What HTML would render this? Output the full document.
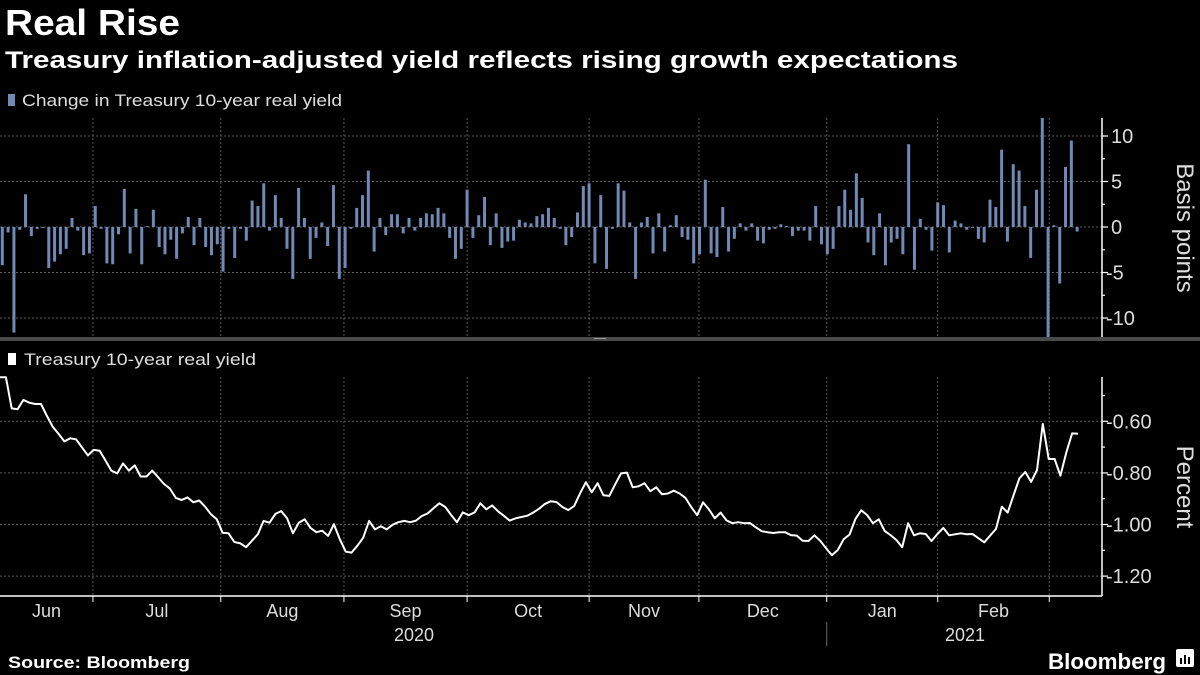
<!DOCTYPE html>
<html><head><meta charset="utf-8"><style>
html,body{margin:0;padding:0;background:#000;}
svg{display:block;font-family:"Liberation Sans",sans-serif;}
</style></head><body>
<svg id="chart" width="1200" height="675" viewBox="0 0 1200 675" xmlns="http://www.w3.org/2000/svg">
<rect x="0" y="0" width="1200" height="675" fill="#000"/>
<text x="5" y="35" fill="#fff" font-size="36" font-weight="bold" textLength="175" lengthAdjust="spacingAndGlyphs">Real Rise</text>
<text x="5" y="68" fill="#fff" font-size="24" font-weight="bold" textLength="953" lengthAdjust="spacingAndGlyphs">Treasury inflation-adjusted yield reflects rising growth expectations</text>
<rect x="8" y="94" width="7" height="12" fill="#7089b5"/>
<text x="22" y="106" fill="#ddd" font-size="17" textLength="320" lengthAdjust="spacingAndGlyphs">Change in Treasury 10-year real yield</text>
<rect x="8" y="353" width="8" height="12" fill="#fff"/>
<text x="24" y="365" fill="#ddd" font-size="17" textLength="232" lengthAdjust="spacingAndGlyphs">Treasury 10-year real yield</text>
<rect x="0" y="337" width="1200" height="4" fill="#4a4a4a"/>
<rect x="594" y="338" width="12" height="1" fill="#999"/>
<g id="grid"></g>
<g id="bars"></g>
<g id="line"></g>
<g id="axes"></g>
<text x="8" y="668" fill="#fff" font-size="17" font-weight="bold" textLength="182" lengthAdjust="spacingAndGlyphs">Source: Bloomberg</text>
<text x="1048" y="669" fill="#fff" font-size="22" font-weight="bold" textLength="118" lengthAdjust="spacingAndGlyphs">Bloomberg</text>
<rect x="1176" y="649" width="18" height="18" rx="2" fill="#fff"/>
<rect x="1180" y="658" width="2" height="6" fill="#000"/><rect x="1184" y="655" width="2" height="9" fill="#000"/><rect x="1188" y="657" width="2" height="7" fill="#000"/>
</svg>
<script>
const barValues=[-4.2,-0.6,-11.6,-0.3,3.6,-1.0,-0.2,-0.1,-4.5,-3.8,-3.0,-2.4,1.0,-0.4,-3.1,-2.9,2.3,-0.2,-4.0,-4.1,-0.8,4.2,-2.9,2.0,-4.1,0.1,1.9,-2.2,-3.0,-1.4,-3.5,-0.7,1.1,-2.0,1.0,-2.2,-3.1,-1.9,-4.9,-0.2,-3.4,-0.2,-1.5,2.9,2.3,4.8,-0.4,3.5,1.0,-2.4,-5.7,4.3,1.0,-3.5,-1.2,0.5,-2.1,4.6,-5.7,-4.5,-0.2,2.1,3.5,6.2,-2.7,1.0,-0.9,1.4,1.4,
-0.7,1.0,-0.4,1.0,1.5,1.4,2.1,1.5,-1.2,-3.5,-2.4,4.1,-1.2,1.3,3.3,-2.0,1.5,-2.3,-1.6,-1.5,0.8,0.5,0.4,1.2,1.4,2.1,1.0,-0.2,-2.0,-1.1,1.6,4.5,4.8,-4.0,3.5,-4.6,-0.2,4.8,4.0,0.5,-5.7,0.5,1.1,-2.9,1.5,-2.7,0.2,1.3,-1.1,-1.4,-4.0,-3.0,5.2,-2.9,-3.3,2.2,-2.7,-1.3,0.4,-0.4,0.4,-1.5,-1.8,-0.3,-0.2,0.3,0.1,-1.0,-0.4,
-0.4,-1.5,2.3,-1.9,-3.0,-2.4,2.3,4.1,1.9,5.9,3.2,-1.7,-3.1,1.5,-4.2,-1.7,-1.3,-3.0,9.1,-4.7,0.9,-0.3,-2.6,2.7,2.4,-2.8,0.7,0.4,-0.3,-0.1,-1.3,-1.7,3.0,2.2,8.5,-1.6,6.9,6.2,2.3,-3.4,4.1,12.5,-12.5,0.2,-6.2,6.6,9.5,-0.5];
const lineValues=[-0.429,-0.429,-0.55,-0.553,-0.517,-0.528,-0.533,-0.533,-0.579,-0.621,-0.649,-0.678,-0.666,-0.67,-0.701,-0.732,-0.711,-0.714,-0.752,-0.791,-0.802,-0.763,-0.791,-0.771,-0.814,-0.814,-0.791,-0.817,-0.843,-0.861,-0.897,-0.905,-0.895,-0.914,-0.907,-0.931,-0.96,-0.98,-1.032,-1.034,-1.068,-1.073,-1.088,-1.063,-1.038,-0.986,-0.993,-0.959,-0.948,-0.976,-1.034,-0.993,-0.98,-1.013,-1.03,-1.024,-1.044,-0.999,-1.057,-1.105,-1.109,-1.082,-1.051,-0.986,-1.019,-1.007,-1.019,-1.001,-0.991,
-0.986,-0.991,-0.985,-0.967,-0.957,-0.937,-0.918,-0.932,-0.963,-0.991,-0.953,-0.964,-0.953,-0.918,-0.941,-0.926,-0.949,-0.966,-0.985,-0.976,-0.971,-0.966,-0.954,-0.939,-0.92,-0.91,-0.913,-0.932,-0.944,-0.928,-0.88,-0.836,-0.875,-0.84,-0.887,-0.889,-0.844,-0.802,-0.799,-0.856,-0.852,-0.84,-0.871,-0.856,-0.883,-0.88,-0.869,-0.88,-0.897,-0.933,-0.964,-0.914,-0.941,-0.976,-0.954,-0.984,-0.995,-0.991,-0.995,-0.994,-1.011,-1.026,-1.03,-1.033,-1.03,-1.03,-1.041,-1.043,
-1.063,-1.064,-1.042,-1.063,-1.092,-1.119,-1.099,-1.057,-1.039,-0.979,-0.945,-0.963,-0.995,-0.98,-1.025,-1.041,-1.06,-1.088,-0.995,-1.042,-1.034,-1.037,-1.064,-1.037,-1.013,-1.042,-1.038,-1.034,-1.038,-1.037,-1.053,-1.069,-1.043,-1.017,-0.931,-0.954,-0.886,-0.821,-0.796,-0.835,-0.789,-0.61,-0.746,-0.746,-0.811,-0.721,-0.647,-0.648];
const monthLabels=["Jun","Jul","Aug","Sep","Oct","Nov","Dec","Jan","Feb"];
const monthBoundaries=[15.6,37.6,58.8,80.0,101.0,119.9,141.9,161.0,180.2];
const yearLabels=["2020","2021"];
const barTicks=[10,5,0,-5,-10];
const barMinorTicks=[7.5,2.5,-2.5,-7.5];
const lineTicks=[-0.6,-0.8,-1.0,-1.2];
const lineMinorTicks=[-0.5,-0.7,-0.9,-1.1];

const NS="http://www.w3.org/2000/svg";
const AX=1102;
const barStep=5.81;
const xBar=i=>2.3+i*barStep;
const xLine=j=>j*(1078/(lineValues.length-1));
const yBar=v=>227-v*9.1;
const yLine=v=>421.3-(v+0.6)*258;
function mk(tag,attrs,parent){const e=document.createElementNS(NS,tag);for(const k in attrs)e.setAttribute(k,attrs[k]);parent.appendChild(e);return e;}
const grid=document.getElementById('grid'),bars=document.getElementById('bars'),line=document.getElementById('line'),axes=document.getElementById('axes');
const dash={stroke:"#5a5a5a","stroke-width":1,"stroke-dasharray":"2,2"};
barTicks.forEach(v=>{const l=mk('line',Object.assign({x1:0,x2:AX,y1:yBar(v),y2:yBar(v)},dash),grid);

});
lineTicks.forEach(v=>{const l=mk('line',Object.assign({x1:0,x2:AX,y1:yLine(v),y2:yLine(v)},dash),grid);

});
monthBoundaries.forEach(b=>{const x=xBar(b);
const a=mk('line',Object.assign({x1:x,x2:x,y1:118,y2:337},dash),grid);


const c=mk('line',Object.assign({x1:x,x2:x,y1:377,y2:596},dash),grid);


const t=mk('line',{x1:x,x2:x,y1:596,y2:602,stroke:"#fff","stroke-width":1},axes);

});
barValues.forEach((v,i)=>{let y1=yBar(Math.max(v,0)),y2=yBar(Math.min(v,0));y1=Math.max(y1,118);y2=Math.min(y2,337);
const r=mk('rect',{x:xBar(i)-1.5,y:y1,width:3,height:Math.max(y2-y1,0.5),fill:"#7089b5"},bars);

});
const p=mk('polyline',{points:lineValues.map((v,j)=>xLine(j).toFixed(1)+","+yLine(v).toFixed(1)).join(" "),fill:"none",stroke:"#fff","stroke-width":2,"stroke-linejoin":"round"},line);


[[118,337],[377,596]].forEach(([a,b])=>{const l=mk('line',{x1:AX,x2:AX,y1:a,y2:b,stroke:"#fff","stroke-width":1.5},axes);

});
const xl=mk('line',{x1:0,x2:AX,y1:596,y2:596,stroke:"#fff","stroke-width":1.5},axes);


function tick(y,len){mk('line',{x1:AX,x2:AX+len,y1:y,y2:y,stroke:"#fff","stroke-width":1.2},axes);}
barMinorTicks.forEach(v=>tick(yBar(v),3));
lineMinorTicks.forEach(v=>tick(yLine(v),3));
barTicks.forEach(v=>{tick(yBar(v),6);const t=mk('text',{x:v<0?1106:1111,y:yBar(v)+7,fill:"#ddd","font-size":20},axes);t.textContent=String(v);

});
lineTicks.forEach(v=>{tick(yLine(v),6);const t=mk('text',{x:1106,y:yLine(v)+7,fill:"#ddd","font-size":20},axes);t.textContent=v.toFixed(2);

});
const edges=[0].concat(monthBoundaries.map(xBar)).concat([AX]);
monthLabels.forEach((m,i)=>{const cx=(edges[i]+edges[i+1])/2;const t=mk('text',{x:cx,y:617,fill:"#ddd","font-size":18,"text-anchor":"middle"},axes);t.textContent=m;

});
const yb=xBar(monthBoundaries[6]);
const yt1=mk('text',{x:414,y:641,fill:"#ddd","font-size":18,"text-anchor":"middle"},axes);yt1.textContent=yearLabels[0];


const yt2=mk('text',{x:965,y:641,fill:"#ddd","font-size":18,"text-anchor":"middle"},axes);yt2.textContent=yearLabels[1];


mk('line',{x1:yb,x2:yb,y1:622,y2:646,stroke:"#666","stroke-width":1},axes);
const at1=mk('text',{x:0,y:0,fill:"#ddd","font-size":24,"text-anchor":"middle",transform:"translate(1177,228) rotate(90)"},axes);at1.textContent="Basis points";


const at2=mk('text',{x:0,y:0,fill:"#ddd","font-size":24,"text-anchor":"middle",transform:"translate(1177,487) rotate(90)"},axes);at2.textContent="Percent";


</script>
</body></html>
